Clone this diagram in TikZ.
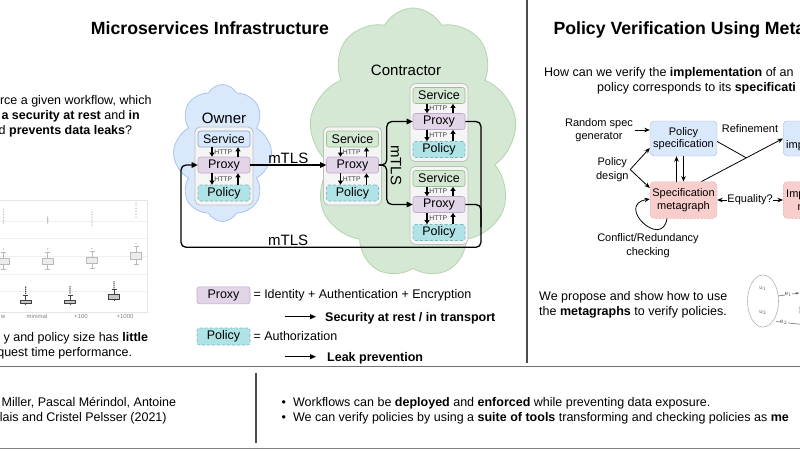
\documentclass[tikz,border=0pt]{standalone}
\usepackage{fontspec}
\setmainfont{Liberation Sans}
\usepackage{tikz}
\usetikzlibrary{arrows.meta,positioning,calc,shapes.symbols,shapes.geometric}

\definecolor{ownerfill}{HTML}{DAE8FC}
\definecolor{ownerline}{HTML}{A9C4EB}
\definecolor{contrfill}{HTML}{D5E8D4}
\definecolor{contrline}{HTML}{B5D3AE}
\definecolor{svcline}{HTML}{6C8EBF}
\definecolor{svcgline}{HTML}{82B366}
\definecolor{prxfill}{HTML}{E1D5E7}
\definecolor{prxline}{HTML}{9673A6}
\definecolor{polfill}{HTML}{B0E3E6}
\definecolor{polline}{HTML}{0E8088}
\definecolor{stackfill}{HTML}{F5F5F5}
\definecolor{metafill}{HTML}{F8CECC}
\definecolor{metaline}{HTML}{B85450}
\definecolor{sepline}{HTML}{4D4D4D}

% one service/proxy/policy stack: name, x, top y, service style
\newcommand{\msstack}[4]{%
  \node[stackbox] (#1) at (#2,#3+39) {};
  \node[#4] (#1-svc) at (#2,#3+12) {Service};
  \node[prxbox] (#1-prx) at (#2,#3+38) {Proxy};
  \node[polbox] (#1-pol) at (#2,#3+66) {Policy};
  \draw[http] ([xshift=-12pt]#1-svc.south) -- ([xshift=-12pt]#1-prx.north);
  \draw[http] ([xshift=14pt]#1-prx.north) -- ([xshift=14pt]#1-svc.south);
  \draw[http] ([xshift=-12pt]#1-prx.south) -- ([xshift=-12pt]#1-pol.north);
  \draw[http] ([xshift=14pt]#1-pol.north) -- ([xshift=14pt]#1-prx.south);
  \path (#1-svc.south) -- node[httplbl] {HTTP} (#1-prx.north);
  \path (#1-prx.south) -- node[httplbl] {HTTP} (#1-pol.north);
}

\begin{document}
\begin{tikzpicture}[x=1pt,y=-1pt,
  body/.style={font=\fontsize{12.5}{15.5}\selectfont, inner sep=0pt},
  title/.style={font=\fontsize{17.7}{21}\selectfont\bfseries, inner sep=0pt},
  cloudlbl/.style={font=\fontsize{15}{17}\selectfont, inner sep=1pt},
  ftext/.style={font=\fontsize{11}{13.4}\selectfont, align=center, inner sep=1.5pt},
  layer/.style={rectangle, rounded corners=2.5pt, minimum width=52pt, minimum height=16pt,
    inner sep=0pt, line width=0.6pt, font=\fontsize{12.5}{14}\selectfont},
  svcblue/.style={layer, fill=ownerfill, draw=svcline!80},
  svcgreen/.style={layer, fill=contrfill, draw=svcgline!80},
  prxbox/.style={layer, fill=prxfill, draw=prxline!60},
  polbox/.style={layer, fill=polfill, draw=polline!55, densely dashed},
  stackbox/.style={rectangle, rounded corners=5pt, minimum width=58pt, minimum height=78pt,
    fill=stackfill, draw=gray!50, line width=0.8pt},
  http/.style={line width=1.1pt, -{Triangle[length=4pt,width=4.8pt]}},
  httplbl/.style={font=\fontsize{6.8}{7}\selectfont, text=black!75, inner sep=0pt, xshift=-0.7pt},
  link/.style={line width=1.3pt, rounded corners=5pt, -{Triangle[length=6pt,width=5.5pt]}},
  legarrow/.style={line width=1pt, -{Triangle[length=6pt,width=5pt]}},
  flow/.style={line width=0.8pt, -{Stealth[length=5.5pt,width=4.5pt]}},
  specbox/.style={rectangle, rounded corners=4pt, fill=ownerfill, draw=svcline!60,
    minimum width=67pt, minimum height=35pt, inner sep=1pt, align=center,
    font=\fontsize{11}{12.5}\selectfont},
  metabox/.style={specbox, fill=metafill, draw=metaline!80, densely dotted, minimum height=36.6pt},
  sep/.style={draw=sepline, line width=1.8pt},
  septhin/.style={draw=sepline, line width=1.3pt}
]
\useasboundingbox (0,0) rectangle (800,450);
\clip (0,0) rectangle (800,450);

% left column
\node[body, anchor=base east] (q1) at (151.7,104) {rce a given workflow, which};
\node[body, anchor=base east] (q2) at (140,119.5) {\textbf{a security at rest} and \textbf{in}};
\node[body, anchor=base east] (q3) at (132.3,134.5) {d \textbf{prevents data leaks}?};

% box plot
\foreach \gy in {221,238.5,256,274,291.5}
  \draw[gray!12, line width=0.5pt] (-5,\gy) -- (147,\gy);
\draw[gray!20, line width=0.5pt] (-5,200) rectangle (147,312);
\foreach \bx/\ya/\yb in {3.3/209/223, 47.7/217/223, 92/212/225, 136/203/217}
  \foreach \t in {0,...,5}
    \fill[gray!55] (\bx,{\ya+(\yb-\ya)*\t/5}) circle (0.75pt);
\foreach \bx/\by/\bh in {3.5/261/3, 47.7/261/3, 92/260.5/3, 136/256/3.5}
  {\draw[gray!55, line width=0.6pt] (\bx,\by-\bh-6) -- (\bx,\by+\bh+5)
     (\bx-2.5,\by-\bh-6) -- (\bx+2.5,\by-\bh-6) (\bx-2.5,\by+\bh+5) -- (\bx+2.5,\by+\bh+5);
   \draw[gray!55, fill=gray!15, line width=0.6pt] (\bx-5.5,\by-\bh) rectangle (\bx+5.5,\by+\bh);
   \fill[gray!55] (\bx,\by-\bh-9) circle (0.75pt);}
\foreach \bx/\by/\bh in {25.7/301.8/1.6, 70/301.5/1.6, 114/297/2.2}
  {\draw[black!75, line width=0.7pt] (\bx,\by-\bh-5) -- (\bx,\by+\bh+1.5)
     (\bx-2.5,\by-\bh-5) -- (\bx+2.5,\by-\bh-5);
   \draw[black!75, fill=gray!45, line width=0.7pt] (\bx-5.5,\by-\bh) rectangle (\bx+5.5,\by+\bh);
   \foreach \t in {0,1,2,3}
     \fill[black!75] (\bx,\by-\bh-7-2*\t) circle (0.8pt);}
\node[font=\fontsize{6}{7}\selectfont, text=gray, anchor=base east, inner sep=0pt] (tk0) at (5.5,318) {w};
\node[font=\fontsize{6}{7}\selectfont, text=gray, anchor=base, inner sep=0pt] (tk1) at (37,318) {minimal};
\node[font=\fontsize{6}{7}\selectfont, text=gray, anchor=base, inner sep=0pt] (tk2) at (81,318) {+100};
\node[font=\fontsize{6}{7}\selectfont, text=gray, anchor=base, inner sep=0pt] (tk3) at (125,318) {+1000};

\node[body, anchor=base east] (r1) at (148.3,341) {y and policy size has \textbf{little}};
\node[body, anchor=base east] (r2) at (132.3,356) {quest time performance.};

% microservices infrastructure
\node[title, anchor=base west] (ltitle) at (90.7,34.7) {Microservices Infrastructure};

\node[cloud, cloud puffs=8, cloud puff arc=125, cloud ignores aspect, minimum width=98pt, minimum height=137pt,
  fill=ownerfill, draw=ownerline, line width=0.8pt] (ownercloud) at (222.5,153) {};
\node[cloud, cloud puffs=9, cloud puff arc=125, cloud ignores aspect, minimum width=208pt, minimum height=270pt,
  fill=contrfill, draw=contrline, line width=0.8pt] (contrcloud) at (413,143) {};
\node[cloudlbl] (ownerlbl) at (224,118) {Owner};
\node[cloudlbl] (contrlbl) at (406,70) {Contractor};

\msstack{owner}{224}{127}{svcblue}
\msstack{cmid}{352.5}{127}{svcgreen}
\msstack{ctop}{439}{83.5}{svcgreen}
\msstack{cbot}{439}{166.5}{svcgreen}

\draw[link] (owner-prx.east) -- node[cloudlbl, above, inner sep=1pt] {mTLS} (cmid-prx.west);
\draw[link] (cmid-prx.east) -- ++(8,0) |- (ctop-prx.west);
\draw[link] (cmid-prx.east) -- ++(8,0) |- (cbot-prx.west);
\node[cloudlbl, rotate=-90] (mtlsv) at (396,165) {mTLS};

\coordinate (loopr) at (481,247.3);
\coordinate (loopl) at (181,247.3);
\draw[link] (ctop-prx.east) -| (loopr) -- node[cloudlbl, above, inner sep=1pt, pos=0.643] {mTLS} (loopl) |- (owner-prx.west);
\draw[line width=1.3pt, rounded corners=5pt] (cbot-prx.east) -| ($(loopr)+(0,-20)$);

% legend
\node[prxbox, minimum width=53pt, minimum height=17pt] (lgprx) at (223.5,295.3) {Proxy};
\node[body, right=3pt of lgprx] (lgprxtxt) {= Identity + Authentication + Encryption};
\coordinate (secarr) at (285,316.7);
\coordinate (secarrend) at (316,316.7);
\draw[legarrow] (secarr) -- (secarrend);
\node[body, font=\fontsize{12.5}{15.5}\selectfont\bfseries, anchor=base west] (secline) at (325,321) {Security at rest / in transport};
\node[polbox, minimum width=53pt, minimum height=17pt] (lgpol) at (223.5,336.5) {Policy};
\node[body, right=3pt of lgpol] (lgpoltxt) {= Authorization};
\coordinate (leakarr) at (285,356.7);
\coordinate (leakarrend) at (316,356.7);
\draw[legarrow] (leakarr) -- (leakarrend);
\node[body, font=\fontsize{12.5}{15.5}\selectfont\bfseries, anchor=base west] (leakline) at (327,361) {Leak prevention};

% policy verification
\node[title, anchor=base west] (rtitle) at (553.3,34.7) {Policy Verification Using Meta};
\node[body, anchor=base west] (rq1) at (544,76) {How can we verify the \textbf{implementation} of an};
\node[body, anchor=base west] (rq2) at (597,91.5) {policy corresponds to its \textbf{specificati}};

\node[specbox] (pspec) at (683.5,138.5) {Policy\\specification};
\node[metabox] (smeta) at (683.5,200) {Specification\\metagraph};
\node[specbox, anchor=west, minimum width=60pt] (pimpl) at (783,138.5) {};
\node[ftext, anchor=base west, inner sep=0pt] (pimpltxt) at (786,148.5) {imp};
\node[metabox, anchor=west, minimum width=60pt] (imeta) at (783,200) {};
\node[ftext, anchor=base west, inner sep=0pt] (imetatxt) at (786,197.5) {Imp};
\node[ftext, anchor=base west, inner sep=0pt] (imetatxt2) at (797.5,210) {m};

\node[ftext] (rsg) at (599,130) {Random spec\\generator};
\node[ftext] (pdesign) at (612.3,169.5) {Policy\\design};
\node[ftext] (refine) at (750,128.3) {Refinement};
\node[ftext] (conflict) at (648,245.5) {Conflict/Redundancy\\checking};

\draw[flow] (rsg.east) -- (rsg.east -| pspec.west);
\draw[flow] (pdesign.east) -- ([yshift=-9.5pt]pspec.west);
\draw[flow] (pdesign.east) -- ([yshift=12pt]smeta.west);
\draw[flow] ([xshift=-7pt]smeta.north) -- ([xshift=-7pt]pspec.south);
\draw[flow] (pspec.south) -- (smeta.north);
\coordinate (rstart) at ([xshift=18pt]smeta.north);
\coordinate (rjoin) at ($(rstart)!0.55!(pimpl.west)$);
\draw[line width=0.8pt] ([yshift=-3pt]pspec.east) -- (rjoin);
\draw[flow] (rstart) -- (pimpl.west);
\draw[flow, {Stealth[length=5.5pt,width=4.5pt]}-{Stealth[length=5.5pt,width=4.5pt]}] (smeta.east) -- node[ftext, fill=white, inner sep=0.5pt] {Equality?} (imeta.west);
\draw[flow] ([xshift=-16.5pt]smeta.south) .. controls (662,250) and (615,205) .. ([yshift=1pt]smeta.west);

\node[body, anchor=base west] (prop1) at (539,300.5) {We propose and show how to use};
\node[body, anchor=base west] (prop2) at (539,315.5) {the \textbf{metagraphs} to verify policies.};

\node[ellipse, draw=gray!60, line width=0.6pt, minimum width=31pt, minimum height=52pt] (mgset) at (763,301) {};
\node[ellipse, draw=gray!60, line width=0.6pt, minimum width=62pt, minimum height=28pt] (mgnext) at (830,310) {};
\node[font=\fontsize{6}{7}\selectfont, text=gray!80!black, inner sep=0pt] (mgu1) at (763,288) {u$_1$};
\node[font=\fontsize{6}{7}\selectfont, text=gray!80!black, inner sep=0pt] (mgu2) at (763,312) {u$_2$};
\coordinate (e1end) at (799,293);
\coordinate (e2end) at (802,324.5);
\draw[gray!70!black, line width=0.5pt, -{Stealth[length=3pt,width=2.5pt]}] (778,296) -- node[font=\fontsize{6}{7}\selectfont, fill=white, inner sep=0.3pt] {e$_1$} (e1end);
\draw[gray!70!black, line width=0.5pt] (776,321.5) -- node[font=\fontsize{6}{7}\selectfont, fill=white, inner sep=0.3pt, pos=0.3] {e$_2$} (e2end);

% separators
\draw[sep] (527,0) -- (527,363);
\draw[sep, draw=sepline!80] (0,366.5) -- (800,366.5);
\draw[septhin] (256,372.7) -- (256,442.7);
\draw[sep, draw=gray] (0,448.5) -- (800,448.5);

% conclusion
\node[body, anchor=base west] (auth1) at (1.5,406) {Miller, Pascal Mérindol, Antoine};
\node[body, anchor=base west] (auth2) at (-0.3,421.5) {lais and Cristel Pelsser (2021)};
\node[body, anchor=base west] (bul1) at (281.5,406) {\textbullet\hspace{7pt}Workflows can be \textbf{deployed} and \textbf{enforced} while preventing data exposure.};
\node[body, anchor=base west] (bul2) at (281.5,421.5) {\textbullet\hspace{7pt}We can verify policies by using a \textbf{suite of tools} transforming and checking policies as \textbf{me}};
\end{tikzpicture}
\end{document}
